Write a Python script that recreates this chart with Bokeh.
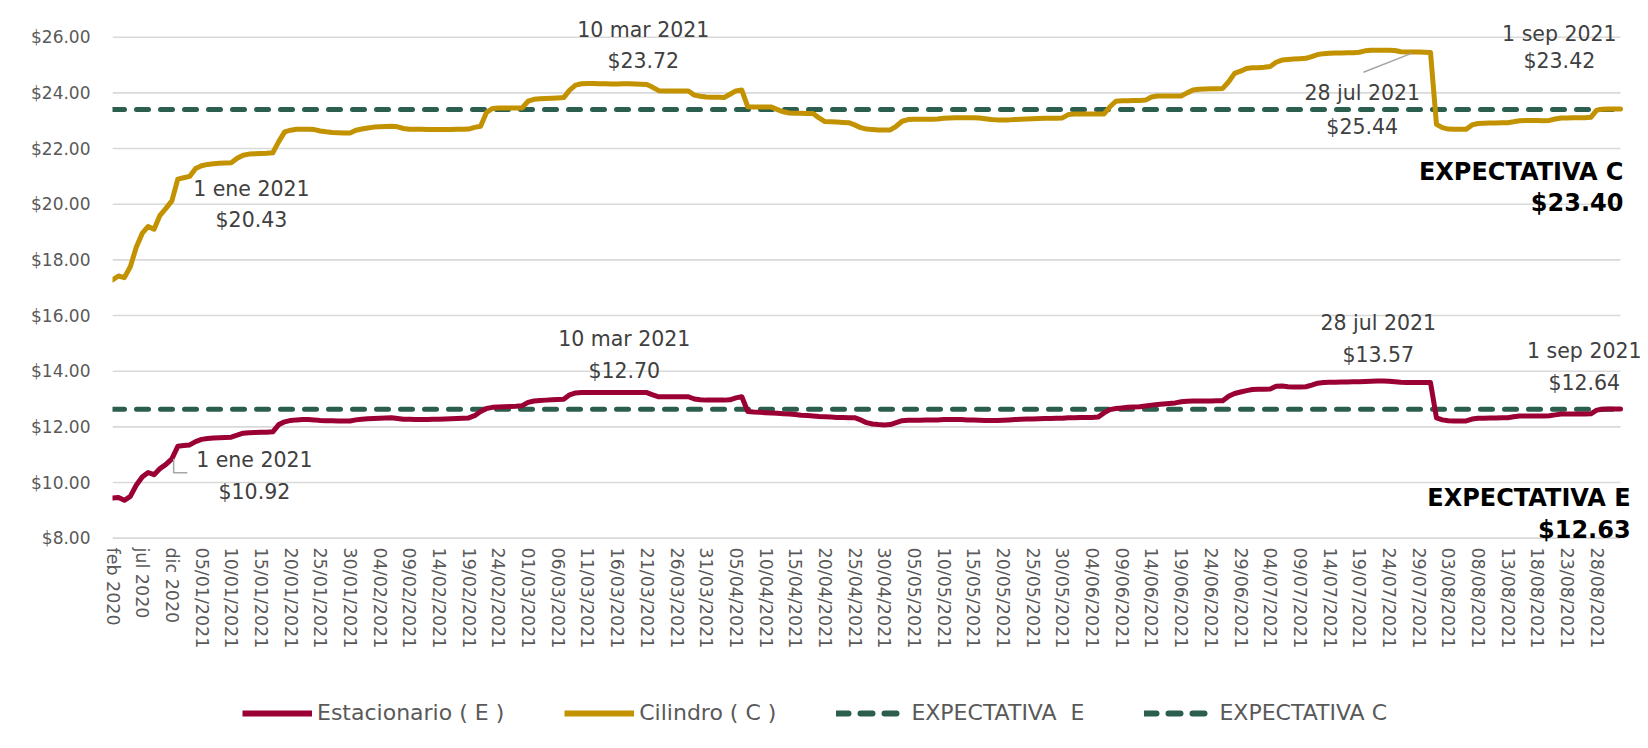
import pandas as pd
from bokeh.plotting import figure
from bokeh.layouts import column
from bokeh.models import Range1d, FixedTicker, Legend, LegendItem, Label, NumeralTickFormatter
from bokeh.embed import file_html
from bokeh.resources import INLINE

# ---------------- data ----------------
month_labels = ["feb 2020", "mar 2020", "abr 2020", "may 2020", "jun 2020", "jul 2020",
                "ago 2020", "sep 2020", "oct 2020", "nov 2020", "dic 2020"]
day_labels = list(pd.date_range("2021-01-01", "2021-09-01", freq="D").strftime("%d/%m/%Y"))
categories = month_labels + day_labels

cilindro = [
    17.28, 17.42, 17.36, 17.75, 18.45, 18.95, 19.2, 19.1, 19.6, 19.85,
    20.12, 20.9, 20.95, 21.0, 21.28, 21.38, 21.43, 21.45, 21.47, 21.48,
    21.49, 21.65, 21.76, 21.8, 21.81, 21.82, 21.83, 21.85, 22.25, 22.6,
    22.66, 22.69, 22.69, 22.69, 22.68, 22.63, 22.6, 22.58, 22.57, 22.56,
    22.56, 22.66, 22.7, 22.74, 22.77, 22.78, 22.79, 22.8, 22.78, 22.72,
    22.69, 22.69, 22.69, 22.68, 22.68, 22.68, 22.68, 22.68, 22.69, 22.69,
    22.7, 22.76, 22.8, 23.3, 23.44, 23.46, 23.46, 23.46, 23.46, 23.46,
    23.7, 23.77, 23.79, 23.8, 23.81, 23.82, 23.83, 24.1, 24.28, 24.33,
    24.34, 24.34, 24.33, 24.33, 24.32, 24.32, 24.33, 24.33, 24.32, 24.31,
    24.3, 24.2, 24.08, 24.07, 24.07, 24.07, 24.07, 24.07, 23.92, 23.88,
    23.85, 23.84, 23.84, 23.83, 23.95, 24.07, 24.1, 23.5, 23.49, 23.49,
    23.49, 23.49, 23.4, 23.32, 23.28, 23.27, 23.27, 23.26, 23.26, 23.1,
    22.97, 22.96, 22.95, 22.94, 22.93, 22.85, 22.75, 22.7, 22.68, 22.67,
    22.67, 22.67, 22.8, 22.98, 23.04, 23.05, 23.05, 23.05, 23.05, 23.06,
    23.09, 23.1, 23.11, 23.11, 23.11, 23.11, 23.1, 23.07, 23.04, 23.03,
    23.03, 23.03, 23.04, 23.05, 23.06, 23.07, 23.08, 23.09, 23.09, 23.09,
    23.1, 23.22, 23.24, 23.24, 23.24, 23.24, 23.24, 23.24, 23.5, 23.7,
    23.72, 23.72, 23.73, 23.73, 23.74, 23.85, 23.89, 23.89, 23.89, 23.89,
    23.89, 24.0, 24.1, 24.13, 24.14, 24.15, 24.15, 24.16, 24.4, 24.7,
    24.78, 24.88, 24.9, 24.9, 24.92, 24.95, 25.1, 25.18, 25.2, 25.22,
    25.23, 25.24, 25.3, 25.38, 25.41, 25.42, 25.43, 25.43, 25.44, 25.44,
    25.46, 25.51, 25.53, 25.53, 25.53, 25.53, 25.52, 25.48, 25.47, 25.47,
    25.47, 25.46, 25.45, 22.87, 22.75, 22.7, 22.69, 22.69, 22.69, 22.85,
    22.9, 22.91, 22.92, 22.92, 22.93, 22.93, 22.96, 23.0, 23.01, 23.01,
    23.01, 23.0, 23.01, 23.06, 23.1, 23.1, 23.11, 23.11, 23.11, 23.12,
    23.38, 23.41, 23.42, 23.42, 23.42,
]

estacionario = [
    9.44, 9.46, 9.36, 9.5, 9.9, 10.2, 10.36, 10.28, 10.5, 10.65,
    10.85, 11.3, 11.33, 11.35, 11.47, 11.55, 11.58, 11.6, 11.61, 11.62,
    11.63, 11.7, 11.77, 11.79, 11.8, 11.81, 11.81, 11.82, 12.08, 12.18,
    12.23, 12.25, 12.26, 12.26, 12.25, 12.23, 12.22, 12.22, 12.21, 12.21,
    12.21, 12.25, 12.27, 12.29, 12.3, 12.31, 12.32, 12.33, 12.3, 12.27,
    12.27, 12.26, 12.26, 12.26, 12.27, 12.27, 12.28, 12.29, 12.3, 12.31,
    12.32, 12.4, 12.55, 12.66, 12.7, 12.71, 12.72, 12.73, 12.74, 12.76,
    12.88, 12.93, 12.95, 12.96, 12.97, 12.98, 12.99, 13.15, 13.22, 13.23,
    13.23, 13.23, 13.23, 13.23, 13.23, 13.23, 13.23, 13.23, 13.23, 13.23,
    13.23, 13.15, 13.08, 13.08, 13.08, 13.08, 13.08, 13.08, 13.0, 12.97,
    12.96, 12.96, 12.96, 12.96, 12.97, 13.04, 13.08, 12.55, 12.53, 12.52,
    12.51, 12.5, 12.49, 12.47, 12.46, 12.44, 12.42, 12.41, 12.39, 12.37,
    12.36, 12.35, 12.34, 12.34, 12.33, 12.33, 12.25, 12.15, 12.1, 12.08,
    12.07, 12.08, 12.15, 12.22, 12.24, 12.24, 12.24, 12.25, 12.25, 12.25,
    12.26, 12.26, 12.26, 12.26, 12.25, 12.25, 12.24, 12.23, 12.23, 12.23,
    12.24, 12.25, 12.26, 12.27, 12.28, 12.28, 12.29, 12.3, 12.3, 12.31,
    12.31, 12.33, 12.33, 12.34, 12.34, 12.34, 12.35, 12.5, 12.62, 12.66,
    12.68, 12.7, 12.71, 12.72, 12.75, 12.78, 12.8, 12.82, 12.84, 12.86,
    12.9, 12.92, 12.93, 12.93, 12.93, 12.93, 12.94, 12.94, 13.1, 13.2,
    13.25, 13.3, 13.34, 13.35, 13.35, 13.36, 13.46, 13.47, 13.44, 13.43,
    13.43, 13.44, 13.5, 13.57, 13.59, 13.6, 13.6, 13.61, 13.61, 13.62,
    13.62, 13.63, 13.64, 13.65, 13.65, 13.64, 13.62, 13.6, 13.59, 13.59,
    13.59, 13.59, 13.59, 12.32, 12.25, 12.22, 12.21, 12.21, 12.21, 12.28,
    12.31, 12.31, 12.32, 12.32, 12.33, 12.33, 12.36, 12.39, 12.39, 12.39,
    12.39, 12.39, 12.4, 12.43, 12.46, 12.46, 12.46, 12.46, 12.46, 12.47,
    12.6, 12.63, 12.64, 12.64, 12.64,
]

expectativa_e = 12.63
expectativa_c = 23.40

series_names = ["Estacionario ( E )", "Cilindro ( C )", "EXPECTATIVA  E", "EXPECTATIVA C"]
y_ticks = [8, 10, 12, 14, 16, 18, 20, 22, 24, 26]

# annotation texts
ann_c = [("10 mar 2021", "$23.72"), ("1 ene 2021", "$20.43"), ("28 jul 2021", "$25.44"), ("1 sep 2021", "$23.42")]
ann_e = [("1 ene 2021", "$10.92"), ("10 mar 2021", "$12.70"), ("28 jul 2021", "$13.57"), ("1 sep 2021", "$12.64")]
exp_c_text = ("EXPECTATIVA C", "$23.40")
exp_e_text = ("EXPECTATIVA E", "$12.63")

# ---------------- styles ----------------
FONT = "DejaVu Sans"
C_E = "#9A0034"
C_C = "#C29200"
C_X = "#2B5E4E"
GRID = "#d9d9d9"
TICK = "#595959"
ANN = "#404040"

n = len(categories)
xs = list(range(n))
x_e = xs[:len(estacionario)]
x_c = xs[:len(cilindro)]

PX_PER_IDX = 5.937
PX_PER_UNIT = 27.83
FW, FH = 1530, 541
Y0 = 7.88
BOTTOM = 110

p = figure(frame_width=FW, frame_height=FH, output_backend="svg", toolbar_location=None,
           x_range=Range1d(0, FW / PX_PER_IDX), y_range=Range1d(Y0, Y0 + FH / PX_PER_UNIT),
           min_border_left=112, min_border_right=4, min_border_top=0, min_border_bottom=BOTTOM)
p.outline_line_color = None
p.background_fill_color = "white"
p.border_fill_color = "white"

# grid (drawn across the data span only)
p.xgrid.visible = False
p.ygrid.visible = False
p.segment(x0=[0] * len(y_ticks), x1=[n - 1] * len(y_ticks), y0=y_ticks, y1=y_ticks,
          line_color=GRID, line_width=1.6)

# y axis
p.yaxis.ticker = FixedTicker(ticks=y_ticks)
p.yaxis.formatter = NumeralTickFormatter(format="$0.00")
p.yaxis.axis_line_color = None
p.yaxis.major_tick_line_color = None
p.yaxis.major_tick_out = 0
p.yaxis.minor_tick_line_color = None
p.yaxis.minor_tick_out = 0
p.yaxis.major_label_text_font = FONT
p.yaxis.major_label_text_font_size = "17px"
p.yaxis.major_label_text_color = TICK
p.yaxis.major_label_standoff = 22

# x axis
p.xaxis.ticker = FixedTicker(ticks=list(range(0, n, 5)))
p.xaxis.major_label_overrides = {i: categories[i] for i in range(0, n, 5)}
p.xaxis.major_label_orientation = "vertical"
p.xaxis.axis_line_color = None
p.xaxis.major_tick_line_color = None
p.xaxis.major_tick_out = 0
p.xaxis.minor_tick_line_color = None
p.xaxis.minor_tick_out = 0
p.xaxis.major_label_text_font = FONT
p.xaxis.major_label_text_font_size = "17.5px"
p.xaxis.major_label_text_color = TICK
p.xaxis.major_label_standoff = 6

# expectation lines
p.line([0, n - 1], [expectativa_e, expectativa_e], line_color=C_X, line_width=5,
       line_dash="12 12", line_cap="round")
p.line([0, n - 1], [expectativa_c, expectativa_c], line_color=C_X, line_width=5,
       line_dash="12 12", line_cap="round")

# series lines
p.line(x_e, estacionario, line_color=C_E, line_width=5, line_join="round", line_cap="round")
p.line(x_c, cilindro, line_color=C_C, line_width=5, line_join="round", line_cap="round")

# leader lines
i_jul = 10 + pd.Timestamp("2021-07-28").dayofyear
p.line([i_jul - 8.3, i_jul - 0.2], [24.74, cilindro[i_jul] - 0.05], line_color="#a6a6a6", line_width=1.5)
i_ene = 11
p.line([i_ene - 0.7, i_ene - 0.7, i_ene + 1.6], [estacionario[i_ene] - 0.45, 10.35, 10.35],
       line_color="#a6a6a6", line_width=1.5)


def add_label(x, y, text, size="20.5px", color=ANN, align="center", bold=False):
    p.add_layout(Label(x=x, y=y, x_units="data", y_units="data", text=text,
                       text_align=align, text_baseline="middle", text_font=FONT,
                       text_font_size=size, text_color=color,
                       text_font_style="bold" if bold else "normal"))


# Cilindro annotations (x index, y value of text centers)
c_pos = [(89.4, 26.27, 25.16), (23.4, 20.55, 19.44), (210.5, 24.0, 22.78), (243.7, 26.1, 25.14)]
for (d, v), (x, y1, y2) in zip(ann_c, c_pos):
    add_label(x, y1, d)
    add_label(x, y2, v)

# Estacionario annotations
e_pos = [(23.9, 10.82, 9.67), (86.2, 15.16, 14.01), (213.2, 15.74, 14.59), (247.9, 14.73, 13.58)]
for (d, v), (x, y1, y2) in zip(ann_e, e_pos):
    add_label(x, y1, d)
    add_label(x, y2, v)

# expectation labels
add_label(254.5, 21.14, exp_c_text[0], size="24px", color="#000000", align="right", bold=True)
add_label(254.5, 20.03, exp_c_text[1], size="24px", color="#000000", align="right", bold=True)
add_label(255.7, 9.45, exp_e_text[0], size="24px", color="#000000", align="right", bold=True)
add_label(255.7, 8.30, exp_e_text[1], size="24px", color="#000000", align="right", bold=True)

# ---------------- legend strip below ----------------
LEG_H = 746 - FH - BOTTOM
q = figure(width=1646, height=LEG_H, output_backend="svg", toolbar_location=None,
           x_range=Range1d(0, 1), y_range=Range1d(0, 1),
           min_border_left=0, min_border_right=0, min_border_top=0, min_border_bottom=0)
q.axis.visible = False
q.grid.visible = False
q.outline_line_color = None
q.background_fill_color = "white"
q.border_fill_color = "white"
# legend proxies (kept outside the visible range)
px, py = [-5, -4], [-5, -5]
g_e = q.line(px, py, line_color=C_E, line_width=6)
g_c = q.line(px, py, line_color=C_C, line_width=6)
g_xe = q.line(px, py, line_color=C_X, line_width=6, line_dash="12 12", line_cap="round")
g_xc = q.line(px, py, line_color=C_X, line_width=6, line_dash="12 12", line_cap="round")
legend = Legend(items=[LegendItem(label=series_names[0], renderers=[g_e]),
                       LegendItem(label=series_names[1], renderers=[g_c]),
                       LegendItem(label=series_names[2], renderers=[g_xe]),
                       LegendItem(label=series_names[3], renderers=[g_xc])],
                orientation="horizontal", location=(130, LEG_H - 60 - 14),
                label_text_font=FONT, label_text_font_size="22px", label_text_color=TICK,
                glyph_width=70, glyph_height=20, label_standoff=5, spacing=60,
                border_line_color=None, background_fill_alpha=0, margin=0, padding=0)
q.add_layout(legend)

open("out.html", "w").write(file_html(column(p, q), INLINE))
